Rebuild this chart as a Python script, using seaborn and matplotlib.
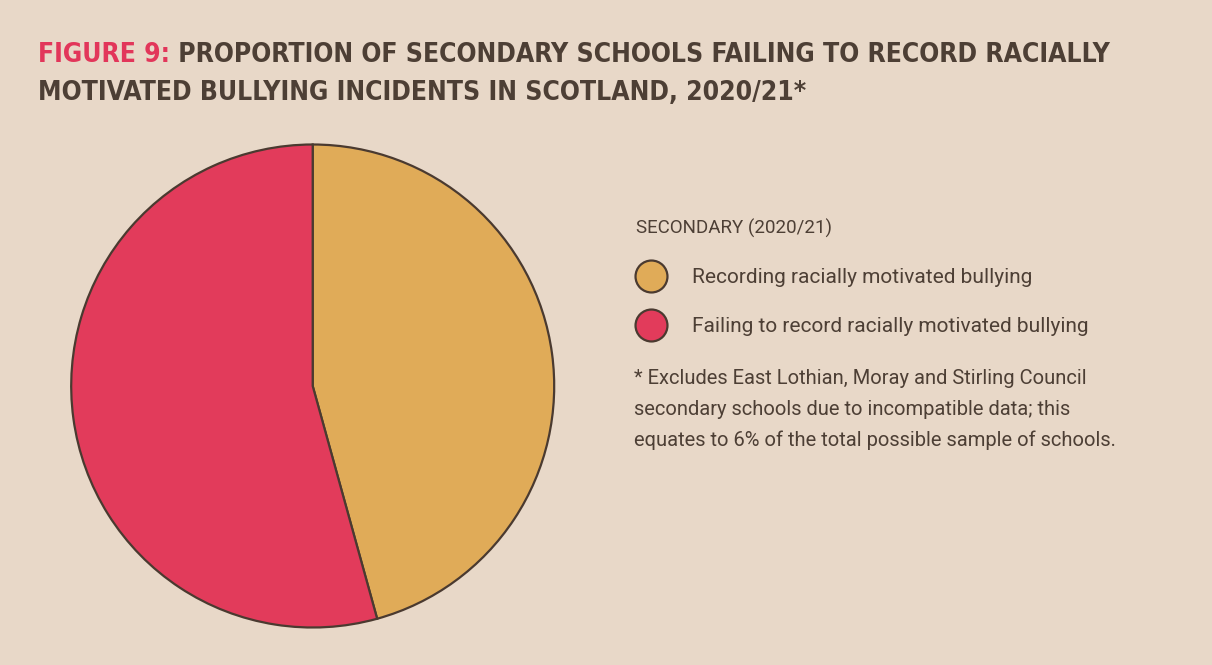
import matplotlib
matplotlib.use("Agg")
from matplotlib import pyplot as plt
from matplotlib.lines import Line2D
import seaborn as sns

# data
labels = ["Recording racially motivated bullying",
          "Failing to record racially motivated bullying"]
shares = [45.7, 54.3]
colors = ["#E0AB58", "#E23B5B"]
legend_title = "SECONDARY (2020/21)"
title_tag = "FIGURE 9:"
title_lines = [" PROPORTION OF SECONDARY SCHOOLS FAILING TO RECORD RACIALLY",
               "MOTIVATED BULLYING INCIDENTS IN SCOTLAND, 2020/21*"]
note = ("* Excludes East Lothian, Moray and Stirling Council\n"
        "secondary schools due to incompatible data; this\n"
        "equates to 6% of the total possible sample of schools.")

bg = "#E8D8C8"
ink = "#4D3F35"
edge = "#4A3A30"

sns.set_theme(style="white")
plt.rcParams["font.family"] = ["Roboto", "DejaVu Sans"]

W, H = 1212, 665
fig = plt.figure(figsize=(W / 100, H / 100), dpi=100, facecolor=bg)

# pie, centre (313,385) radius 241 px
cx, cy, r = 312.7, 386.0, 241.5
ax = fig.add_axes([(cx - r) / W, (H - cy - r) / H, 2 * r / W, 2 * r / H])
ax.pie(shares, colors=colors, startangle=90, counterclock=False,
       wedgeprops=dict(edgecolor=edge, linewidth=1.6, clip_on=False))
ax.set_xlim(-1, 1)
ax.set_ylim(-1, 1)
ax.set_aspect("equal")
ax.axis("off")

# title, two colours on first line
tkw = dict(fontsize=19, fontweight="bold", fontstretch="condensed",
           family=["DejaVu Sans"])
t1 = fig.text(38 / W, 1 - 62 / H, title_tag, color="#E2365A", **tkw)
fig.canvas.draw()
bb = t1.get_window_extent()
fig.text(bb.x1 / W, 1 - 62 / H, title_lines[0], color=ink, **tkw)
fig.text(38 / W, 1 - 100 / H, title_lines[1], color=ink, **tkw)

# legend
handles = [Line2D([], [], marker="o", ls="", markersize=23, markerfacecolor=c,
                  markeredgecolor=edge, markeredgewidth=1.6) for c in colors]
leg = fig.legend(handles, labels, loc="upper left",
                 bbox_to_anchor=(626 / W, 1 - 208 / H), frameon=False,
                 title=legend_title, alignment="left", fontsize=15,
                 title_fontproperties=dict(size=13.5),
                 labelspacing=1.45, handletextpad=1.25, handlelength=1.4,
                 borderpad=0)
for t in leg.get_texts():
    t.set_color(ink)
leg.get_title().set_color(ink)
leg._legend_box.sep = 22

fig.text(634 / W, 1 - 369 / H, note, color=ink, fontsize=14.5, va="top",
         linespacing=1.78)

fig.savefig("out.png", dpi=100, facecolor=bg)
